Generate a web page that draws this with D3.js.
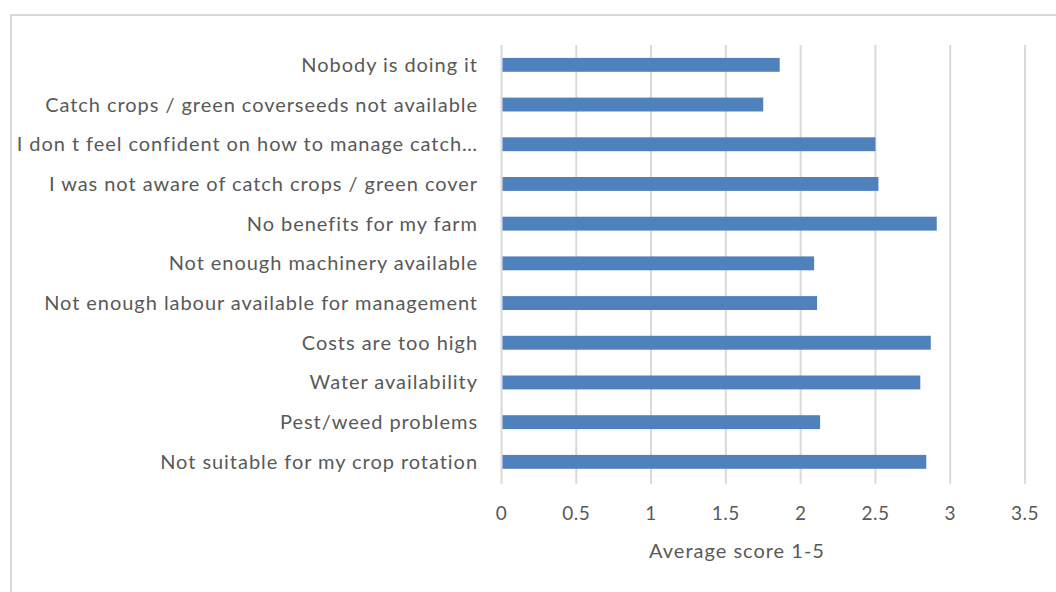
<!DOCTYPE html>
<html>
<head>
<meta charset="utf-8">
<script src="https://cdn.jsdelivr.net/npm/d3@7"></script>
<style>
  body { margin: 0; background: #fff; }
  svg { display: block; }
</style>
</head>
<body>
<div id="chart"></div>
<script>
// categories top to bottom
const categories = [
    'Nobody is doing it',
    'Catch crops / green coverseeds not available',
    'I don t feel confident on how to manage catch\u2026',
    'I was not aware of catch crops / green cover',
    'No benefits for my farm',
    'Not enough machinery available',
    'Not enough labour available for management',
    'Costs are too high',
    'Water availability',
    'Pest/weed problems',
    'Not suitable for my crop rotation'
];
const scores = [1.86, 1.75, 2.50, 2.52, 2.91, 2.09, 2.11, 2.87, 2.80, 2.13, 2.84];
const xTicks = [0, 0.5, 1, 1.5, 2, 2.5, 3, 3.5];
const xTitle = 'Average score 1-5';

const width = 1056, height = 592;
const margin = {top: 45, left: 501.5, right: 31, bottom: 110};

const svg = d3.select('#chart').append('svg')
    .attr('width', width)
    .attr('height', height);

// chart frame
svg.append('rect')
    .attr('x', 11).attr('y', 15)
    .attr('width', width + 20).attr('height', height + 20)
    .attr('fill', 'none')
    .attr('stroke', '#d9d9d9')
    .attr('stroke-width', 2);

const x = d3.scaleLinear()
    .domain([0, 3.5])
    .range([margin.left, width - margin.right]);

const y = d3.scaleBand()
    .domain(categories)
    .range([margin.top, margin.top + 11 * 39.7])
    .paddingInner(0.65)
    .paddingOuter(0.325);

// gridlines
svg.append('g')
    .selectAll('line')
    .data(xTicks)
    .join('line')
    .attr('x1', (d) => x(d)).attr('x2', (d) => x(d))
    .attr('y1', margin.top).attr('y2', margin.top + 11 * 39.7 + 2)
    .attr('stroke', '#d9d9d9')
    .attr('stroke-width', 2);

// bars
svg.append('g')
    .selectAll('rect')
    .data(scores)
    .join('rect')
    .attr('x', x(0) + 1)
    .attr('y', (d, i) => y(categories[i]))
    .attr('width', (d) => x(d) - x(0) - 1)
    .attr('height', y.bandwidth())
    .attr('fill', '#4f81bd');

// category labels
svg.append('g')
    .selectAll('text')
    .data(categories)
    .join('text')
    .attr('x', 478)
    .attr('y', (d) => y(d) + y.bandwidth() / 2)
    .attr('dy', '0.35em')
    .attr('text-anchor', 'end')
    .attr('font-family', 'Lato, sans-serif')
    .attr('font-size', 20)
    .attr('letter-spacing', 0.95)
    .attr('fill', '#595959')
    .text((d) => d);

// x tick labels
svg.append('g')
    .selectAll('text')
    .data(xTicks)
    .join('text')
    .attr('x', (d) => x(d))
    .attr('y', 520)
    .attr('text-anchor', 'middle')
    .attr('font-family', 'Lato, sans-serif')
    .attr('font-size', 19)
    .attr('letter-spacing', 0.5)
    .attr('fill', '#595959')
    .text((d) => d);

// axis title
svg.append('text')
    .attr('x', 737)
    .attr('y', 558)
    .attr('text-anchor', 'middle')
    .attr('font-family', 'Lato, sans-serif')
    .attr('font-size', 20)
    .attr('letter-spacing', 1)
    .attr('fill', '#595959')
    .text(xTitle);
</script>
</body>
</html>
